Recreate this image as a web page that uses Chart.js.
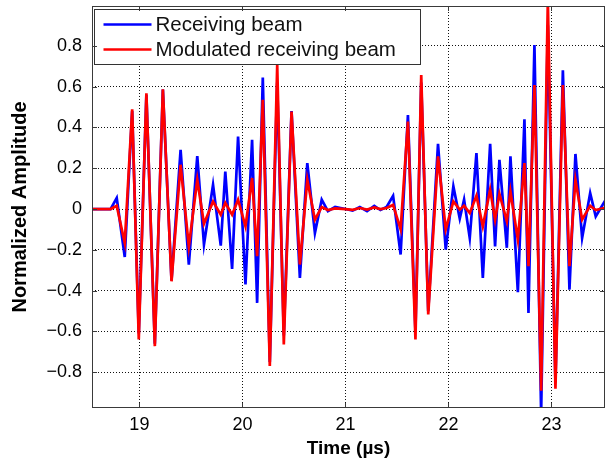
<!DOCTYPE html>
<html>
<head>
<meta charset="utf-8">
<script src="https://cdn.jsdelivr.net/npm/chart.js@4"></script>
<style>
  body { margin: 0; background: #fff; }
  canvas { display: block; }
</style>
</head>
<body>
<canvas id="beamChart" width="610" height="462"></canvas>
<script>
// time axis (µs) and the two traces (peaks / troughs)
const time = [
  18.54, 18.72, 18.78, 18.858, 18.93, 18.994, 19.068, 19.15, 19.228, 19.312,
  19.40, 19.48, 19.562, 19.627, 19.715, 19.79, 19.834, 19.90, 19.958, 20.03,
  20.094, 20.143, 20.198, 20.266, 20.338, 20.402, 20.477, 20.558, 20.63, 20.704,
  20.77, 20.83, 20.90, 21.0, 21.07, 21.14, 21.21, 21.28, 21.34, 21.40,
  21.463, 21.536, 21.607, 21.68, 21.736, 21.804, 21.899, 21.974, 22.048, 22.11,
  22.152, 22.207, 22.272, 22.334, 22.405, 22.453, 22.495, 22.567, 22.602, 22.674,
  22.738, 22.777, 22.835, 22.90, 22.965, 23.039, 23.111, 23.175, 23.233, 23.298,
  23.376, 23.43, 23.515, 23.52
];
const receiving = [
  0, 0, 0.054, -0.235, 0.48, -0.61, 0.56, -0.66, 0.585, -0.35,
  0.29, -0.272, 0.26, -0.174, 0.119, -0.179, 0.184, -0.293, 0.355, -0.37,
  0.339, -0.46, 0.645, -0.75, 0.62, -0.62, 0.48, -0.338, 0.225, -0.117,
  0.046, -0.01, 0.01, 0, -0.008, 0.01, -0.01, 0.015, -0.005, 0.01,
  0.065, -0.223, 0.461, -0.6, 0.62, -0.5, 0.32, -0.199, 0.111, -0.047,
  0.046, -0.142, 0.274, -0.338, 0.32, -0.183, 0.241, -0.19, 0.258, -0.408,
  0.44, -0.509, 0.804, -1.0, 0.9, -0.85, 0.68, -0.395, 0.27, -0.142,
  0.078, -0.036, 0.036, 0.03
];
const modulated = [
  0, 0, 0.016, -0.166, 0.489, -0.639, 0.567, -0.672, 0.587, -0.354,
  0.217, -0.183, 0.143, -0.072, 0.037, -0.028, 0.03, -0.028, 0.046, -0.085,
  0.152, -0.231, 0.535, -0.769, 0.706, -0.664, 0.478, -0.272, 0.143, -0.052,
  0.01, -0.005, 0.003, 0, -0.004, 0.005, -0.003, 0.008, 0, 0.005,
  0.02, -0.10, 0.429, -0.639, 0.657, -0.517, 0.258, -0.10, 0.037, -0.003,
  0.016, -0.02, 0.065, -0.085, 0.095, -0.052, 0.075, -0.06, 0.086, -0.15,
  0.225, -0.28, 0.608, -0.89, 1.02, -0.88, 0.608, -0.28, 0.143, -0.052,
  0.016, -0.005, 0.005, 0.004
];
const seriesNames = ['Receiving beam', 'Modulated receiving beam'];
const xTicks = [19, 20, 21, 22, 23];
const yTicks = [-0.8, -0.6, -0.4, -0.2, 0, 0.2, 0.4, 0.6, 0.8];

const FONT = "'Liberation Sans', Arial, Helvetica, sans-serif";
Chart.defaults.font.family = FONT;
Chart.defaults.color = '#000';

const toPoints = ys => time.map((t, i) => ({ x: t, y: ys[i] }));

// MATLAB-like box with inward ticks
const boxPlugin = {
  id: 'box',
  afterDraw(chart) {
    const { ctx, chartArea: a, scales } = chart;
    ctx.save();
    ctx.strokeStyle = '#3a3a3a';
    ctx.lineWidth = 1;
    ctx.beginPath();
    xTicks.forEach(v => {
      const px = Math.round(scales.x.getPixelForValue(v)) + 0.5;
      ctx.moveTo(px, a.bottom); ctx.lineTo(px, a.bottom - 5);
      ctx.moveTo(px, a.top); ctx.lineTo(px, a.top + 5);
    });
    yTicks.forEach(v => {
      const py = Math.round(scales.y.getPixelForValue(v)) + 0.5;
      ctx.moveTo(a.left, py); ctx.lineTo(a.left + 5, py);
      ctx.moveTo(a.right, py); ctx.lineTo(a.right - 5, py);
    });
    ctx.stroke();
    ctx.strokeRect(Math.round(a.left) + 0.5, Math.round(a.top) + 0.5,
      Math.round(a.right - a.left) - 1, Math.round(a.bottom - a.top) - 1);
    ctx.restore();
  }
};

// legend box inside the upper-left corner
const legendPlugin = {
  id: 'insideLegend',
  afterDatasetsDraw(chart) {
    const { ctx, chartArea: a } = chart;
    const left = Math.round(a.left) + 2.5, top = Math.round(a.top) + 3.5;
    ctx.save();
    ctx.fillStyle = '#fff';
    ctx.fillRect(left, top, 326, 55);
    ctx.strokeStyle = '#333';
    ctx.lineWidth = 1;
    ctx.strokeRect(left, top, 326, 55);
    ctx.font = '20.5px ' + FONT;
    ctx.textBaseline = 'middle';
    ctx.textAlign = 'left';
    const legendOrder = chart.data.datasets.slice().sort((p, q) => p.legendIndex - q.legendIndex);
    legendOrder.forEach((ds, i) => {
      const y = top + 15 + i * 25;
      ctx.strokeStyle = ds.borderColor;
      ctx.lineWidth = 2.5;
      ctx.beginPath();
      ctx.moveTo(left + 9, y); ctx.lineTo(left + 57, y);
      ctx.stroke();
      ctx.fillStyle = '#111';
      ctx.fillText(ds.label, left + 61, y + 1);
    });
    ctx.restore();
  }
};

const chart = new Chart(document.getElementById('beamChart'), {
  type: 'line',
  data: {
    datasets: [
      {
        label: seriesNames[1],
        legendIndex: 1,
        data: toPoints(modulated),
        borderColor: '#ff0000',
        borderWidth: 2.7,
        order: 1
      },
      {
        label: seriesNames[0],
        legendIndex: 0,
        data: toPoints(receiving),
        borderColor: '#0000ff',
        borderWidth: 2.7,
        order: 2
      }
    ]
  },
  options: {
    responsive: false,
    animation: false,
    elements: { point: { radius: 0 }, line: { tension: 0 } },
    layout: { padding: { top: 6, right: 5, left: 0, bottom: 0 } },
    plugins: { legend: { display: false }, tooltip: { enabled: false } },
    scales: {
      x: {
        type: 'linear',
        min: 18.54,
        max: 23.52,
        afterBuildTicks: s => { s.ticks = xTicks.map(v => ({ value: v })); },
        afterFit: s => { s.height = 54; s.paddingLeft = 0; s.paddingRight = 0; },
        grid: { color: '#111', lineWidth: 1, drawTicks: false },
        border: { display: false, dash: [1, 2] },
        ticks: { font: { size: 18 }, color: '#000', padding: 6, callback: v => String(v) },
        title: {
          display: true, text: 'Time (µs)', color: '#000',
          font: { size: 19, weight: 'bold' }, padding: { top: 0, bottom: 2 }
        }
      },
      y: {
        type: 'linear',
        min: -0.975,
        max: 0.995,
        afterBuildTicks: s => { s.ticks = yTicks.map(v => ({ value: v })); },
        afterFit: s => { s.width = 92; s.paddingTop = 0; s.paddingBottom = 0; },
        grid: { color: '#111', lineWidth: 1, drawTicks: false },
        border: { display: false, dash: [1, 2] },
        ticks: {
          font: { size: 18 }, color: '#000', padding: 10,
          callback: v => v === 0 ? '0' : v.toFixed(1).replace('-', '\u2212')
        },
        title: {
          display: true, text: 'Normalized Amplitude', color: '#000',
          font: { size: 20, weight: 'bold' }, padding: { top: 8, bottom: 0 }
        }
      }
    }
  },
  plugins: [boxPlugin, legendPlugin]
});
</script>
</body>
</html>
